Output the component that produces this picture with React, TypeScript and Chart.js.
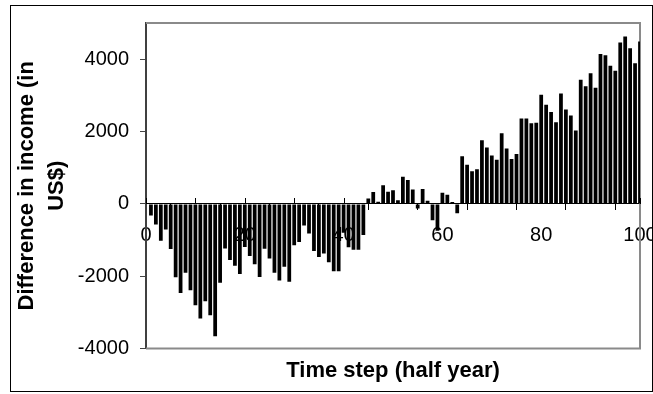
import React, { useEffect, useRef } from 'react';
import { Chart, registerables } from 'chart.js';

Chart.register(...registerables);

const timeSteps = [
  1, 2, 3, 4, 5, 6, 7, 8, 9, 10, 11, 12, 13, 14, 15, 16, 17, 18, 19, 20,
  21, 22, 23, 24, 25, 26, 27, 28, 29, 30, 31, 32, 33, 34, 35, 36, 37, 38, 39, 40,
  41, 42, 43, 44, 45, 46, 47, 48, 49, 50, 51, 52, 53, 54, 55, 56, 57, 58, 59, 60,
  61, 62, 63, 64, 65, 66, 67, 68, 69, 70, 71, 72, 73, 74, 75, 76, 77, 78, 79, 80,
  81, 82, 83, 84, 85, 86, 87, 88, 89, 90, 91, 92, 93, 94, 95, 96, 97, 98, 99, 100,
];

const incomeDifference = [
  -320, -570, -1020, -710, -1250, -2030, -2460, -1900, -2390, -2800,
  -3170, -2690, -3080, -3660, -2180, -1230, -1550, -1710, -1940, -1190,
  -1440, -1670, -2020, -1240, -1510, -1900, -2120, -1740, -2150, -1140,
  -1050, -600, -820, -1300, -1470, -1370, -1610, -1860, -1860, -800,
  -1200, -1270, -1270, -860, 150, 330, 60, 515, 335, 380,
  100, 750, 660, 400, -130, 410, 85, -450, -740, 310,
  255, 50, -260, 1315, 1080, 900, 960, 1760, 1560, 1340,
  1220, 1950, 1530, 1240, 1380, 2360, 2360, 2230, 2240, 3020,
  2740, 2540, 2260, 3050, 2610, 2440, 2030, 3430, 3250, 3610,
  3210, 4140, 4110, 3820, 3680, 4460, 4630, 4300, 3890, 4490,
];

const yTickValues = [-4000, -2000, 0, 2000, 4000];
const xTickValues = [0, 10, 20, 30, 40, 50, 60, 70, 80, 90, 100];
const xLabelValues = [0, 20, 40, 60, 80, 100];

const xAxisTitle = 'Time step (half year)';
const yAxisTitle = ['Difference in income (in', 'US$)'];

const FONT = "'Liberation Sans', Arial, Helvetica, sans-serif";

const framePlugin = {
  id: 'frame',
  beforeDatasetsDraw(chart: any) {
    const { ctx, chartArea } = chart;
    const { left, top, right, bottom } = chartArea;
    ctx.save();
    ctx.strokeStyle = '#8a8a8a';
    ctx.lineWidth = 2;
    ctx.beginPath();
    ctx.moveTo(left, top);
    ctx.lineTo(right, top);
    ctx.lineTo(right, bottom);
    ctx.lineTo(left, bottom);
    ctx.stroke();
    // upward half of the crossing tick marks on the zero axis
    const xs = chart.scales.x;
    const ys = chart.scales.y;
    const y0 = Math.round(ys.getPixelForValue(0));
    ctx.strokeStyle = '#000';
    ctx.lineWidth = 1;
    ctx.beginPath();
    xs.ticks.forEach((t: any) => {
      const px = Math.round(xs.getPixelForValue(t.value)) + 0.5;
      ctx.moveTo(px, y0 - 6);
      ctx.lineTo(px, y0);
    });
    ctx.stroke();
    ctx.restore();
  },
  afterDraw(chart: any) {
    const { ctx } = chart;
    ctx.save();
    ctx.strokeStyle = '#000';
    ctx.lineWidth = 1;
    ctx.strokeRect(10.5, 5.5, 642, 386);
    ctx.restore();
  },
};

export default function App() {
  const canvasRef = useRef<HTMLCanvasElement | null>(null);

  useEffect(() => {
    document.body.style.margin = '0';
    const canvas = canvasRef.current;
    if (!canvas) return;
    const chart = new Chart(canvas, {
      type: 'bar',
      data: {
        datasets: [
          {
            label: 'Difference in income',
            data: timeSteps.map((t, i) => ({ x: t, y: incomeDifference[i] })),
            backgroundColor: '#000',
            borderWidth: 0,
            barPercentage: 0.76,
            categoryPercentage: 1,
          },
        ],
      },
      options: {
        animation: false,
        responsive: false,
        layout: { padding: { left: 10, top: 23, right: 13, bottom: 10 } },
        plugins: {
          legend: { display: false },
          tooltip: { enabled: false },
          title: {
            display: true,
            text: xAxisTitle,
            position: 'bottom',
            fullSize: false,
            color: '#000',
            font: { family: FONT, size: 22, weight: 'bold', lineHeight: 1.2 },
            padding: { top: 9, bottom: 0 },
          },
        },
        scales: {
          x: {
            type: 'linear',
            min: 0,
            max: 100,
            offset: false,
            position: { y: 0 } as any,
            afterBuildTicks: (scale: any) => {
              scale.ticks = xTickValues.map((v) => ({ value: v }));
            },
            afterFit: (scale: any) => {
              scale.paddingLeft = 0;
              scale.paddingRight = 0;
            },
            ticks: {
              autoSkip: false,
              maxRotation: 0,
              padding: 14,
              color: '#000',
              font: { family: FONT, size: 20 },
              callback: (value: any) => (xLabelValues.includes(Number(value)) ? String(value) : ''),
            },
            grid: {
              drawOnChartArea: false,
              drawTicks: true,
              tickLength: 6,
              color: '#000',
            },
            border: { display: true, color: '#000', width: 1 },
          },
          y: {
            type: 'linear',
            position: 'left',
            min: -4000,
            max: 5000,
            afterBuildTicks: (scale: any) => {
              scale.ticks = yTickValues.map((v) => ({ value: v }));
            },
            afterFit: (scale: any) => {
              scale.width = 136;
            },
            ticks: {
              padding: 11,
              color: '#000',
              font: { family: FONT, size: 20 },
              callback: (value: any) => String(value),
            },
            grid: {
              drawOnChartArea: false,
              drawTicks: true,
              tickLength: 6,
              color: '#444',
            },
            border: { display: true, color: '#404040', width: 2 },
            title: {
              display: true,
              text: yAxisTitle,
              color: '#000',
              font: { family: FONT, size: 22, weight: 'bold', lineHeight: 1.35 },
              padding: { top: 2, bottom: 9 },
            },
          },
        },
      },
      plugins: [framePlugin],
    });
    return () => chart.destroy();
  }, []);

  return (
    <div style={{ width: 653, height: 394 }}>
      <canvas ref={canvasRef} width={653} height={394} style={{ display: 'block' }} />
    </div>
  );
}
